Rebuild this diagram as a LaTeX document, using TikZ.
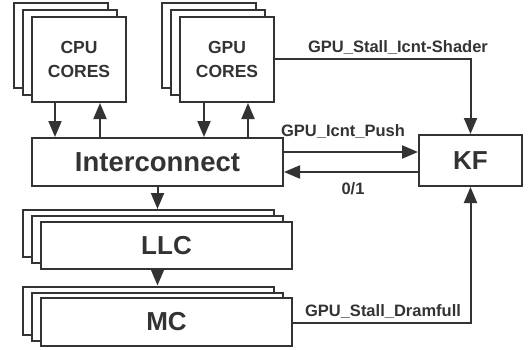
\documentclass[tikz,border=0pt]{standalone}
\usepackage{fontspec}
\setmainfont{Liberation Sans}
\usetikzlibrary{arrows.meta}
\definecolor{ink}{HTML}{333333}

\begin{document}
\begin{tikzpicture}[x=1pt,y=-1pt,
	box/.style={draw=ink, line width=2pt, fill=white, inner sep=0pt, text=ink},
	core/.style={box, minimum width=94pt, minimum height=85pt, align=center, font=\fontsize{17.5}{24}\selectfont\bfseries},
	wide/.style={box, minimum width=251pt, minimum height=47pt, font=\fontsize{26}{30}\selectfont\bfseries},
	arr/.style={draw=ink, line width=2pt, -{Triangle[length=16pt,width=13pt]}},
	lbl/.style={text=ink, inner sep=0pt, font=\fontsize{16.5}{18}\selectfont\bfseries}]
	\useasboundingbox (0,0) rectangle (532,350);
	% core stacks
	\node [core] (cpu3) at (61,45.5) {};
	\node [core] (cpu2) at (70,52.5) {};
	\node [core] (cpu) at (79,59.5) {CPU\\CORES};
	\node [core] (gpu3) at (209,45.5) {};
	\node [core] (gpu2) at (218,52.5) {};
	\node [core] (gpu) at (227,59.5) {GPU\\CORES};
	% interconnect and KF
	\node [box, minimum width=251pt, minimum height=48pt, font=\fontsize{27.5}{30}\selectfont\bfseries] (ic) at (157.5,162) {Interconnect};
	\node [box, minimum width=103pt, minimum height=51pt, font=\fontsize{26}{30}\selectfont\bfseries] (kf) at (470.5,160.5) {KF};
	% LLC and MC stacks
	\node [wide] (llc3) at (148.5,233.5) {};
	\node [wide] (llc2) at (157.5,239.5) {};
	\node [wide] (llc) at (166.5,245.5) {LLC};
	\node [wide, minimum height=48pt] (mc3) at (148.5,310.5) {};
	\node [wide, minimum height=48pt] (mc2) at (157.5,316.5) {};
	\node [wide, minimum height=48pt] (mc) at (166.5,322) {MC};
	% core links
	\draw [arr] ([xshift=-24pt]cpu.south) -- ([xshift=-24pt]cpu.south |- ic.north);
	\draw [arr] ([xshift=21pt]cpu.south |- ic.north) -- ([xshift=21pt]cpu.south);
	\draw [arr] ([xshift=-23pt]gpu.south) -- ([xshift=-23pt]gpu.south |- ic.north);
	\draw [arr] ([xshift=21pt]gpu.south |- ic.north) -- ([xshift=21pt]gpu.south);
	% memory path
	\draw [arr] (ic.south) -- (ic.south |- llc3.north);
	\draw [arr] (ic.south |- llc.south) -- (ic.south |- mc3.north);
	% KF links
	\draw [arr] ([yshift=10pt]ic.east) -- ([yshift=10pt]ic.east -| kf.west);
	\draw [arr] ([yshift=-10pt]ic.east -| kf.west) -- ([yshift=-10pt]ic.east);
	\draw [arr] (gpu.east) -- (gpu.east -| kf.north) -- (kf.north);
	\draw [arr] ([yshift=-1pt]mc.east) -- ([yshift=-1pt]mc.east -| kf.south) -- (kf.south);
	% labels
	\node [lbl] (shader) at (398,47.5) {GPU\_Stall\_Icnt-Shader};
	\node [lbl] (push) at (343,132) {GPU\_Icnt\_Push};
	\node [lbl] (back) at (353,189) {0/1};
	\node [lbl] (dram) at (383,311.5) {GPU\_Stall\_Dramfull};
\end{tikzpicture}
\end{document}
